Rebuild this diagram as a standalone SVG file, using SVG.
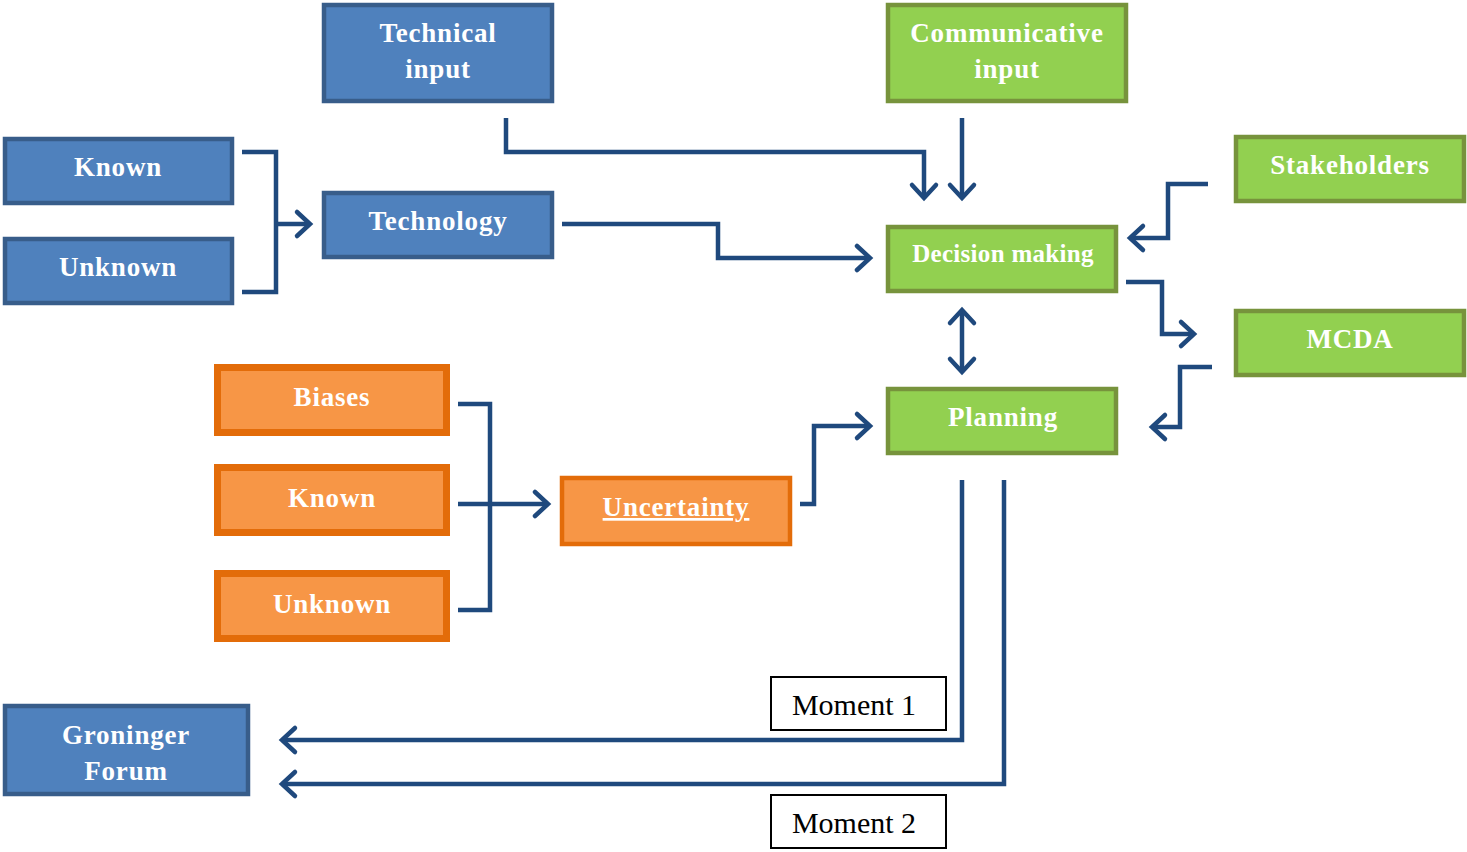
<svg xmlns="http://www.w3.org/2000/svg" width="1467" height="852" viewBox="0 0 1467 852">
<style>
.blue{fill:#4F81BD;stroke:#385D8A;stroke-width:4.5}
.green{fill:#92D050;stroke:#77933C;stroke-width:4.5}
.orange{fill:#F79646;stroke:#E36C09;stroke-width:7}
.mom{fill:#fff;stroke:#000;stroke-width:2}
.t{font-family:"Liberation Serif","Times New Roman",serif;font-weight:bold;font-size:27px;letter-spacing:0.8px;fill:#fff;text-anchor:middle}
.m{font-family:"Liberation Serif","Times New Roman",serif;font-size:30px;fill:#000;text-anchor:middle}
.c{fill:none;stroke:#1F497D;stroke-width:4.5;stroke-linejoin:miter}
</style>
<defs>
<marker id="ah" markerUnits="userSpaceOnUse" markerWidth="30" markerHeight="30" viewBox="-16 -15 20 30" refX="0" refY="0" orient="auto-start-reverse" overflow="visible">
<path d="M-13,-12 L0,0 L-13,12" fill="none" stroke="#1F497D" stroke-width="4.5" stroke-linecap="round" stroke-linejoin="miter"/>
</marker>
</defs>
<rect width="1467" height="852" fill="#fff"/>
<g id="connectors">
<path class="c" d="M242,152 H276 V292 H242"/>
<path class="c" d="M276,224 H310" marker-end="url(#ah)"/>
<path class="c" d="M506,118 V152 H924 V198" marker-end="url(#ah)"/>
<path class="c" d="M962,118 V198" marker-end="url(#ah)"/>
<path class="c" d="M562,224 H718 V258 H870" marker-end="url(#ah)"/>
<path class="c" d="M1208,184 H1168 V238 H1130" marker-end="url(#ah)"/>
<path class="c" d="M1126,282 H1162 V334 H1194" marker-end="url(#ah)"/>
<path class="c" d="M1212,367 H1180 V427 H1152" marker-end="url(#ah)"/>
<path class="c" d="M962,310 V372" marker-start="url(#ah)" marker-end="url(#ah)"/>
<path class="c" d="M458,404 H490 V610 H458"/>
<path class="c" d="M458,504 H548" marker-end="url(#ah)"/>
<path class="c" d="M800,504 H814 V426 H870" marker-end="url(#ah)"/>
<path class="c" d="M962,480 V740 H282" marker-end="url(#ah)"/>
<path class="c" d="M1004,480 V784 H282" marker-end="url(#ah)"/>
</g>
<g id="technical-input"><rect class="blue" x="324" y="5" width="228" height="96"/><text class="t" x="438" y="42">Technical</text><text class="t" x="438" y="78">input</text></g>
<g id="communicative-input"><rect class="green" x="888" y="5" width="238" height="96"/><text class="t" x="1007" y="42">Communicative</text><text class="t" x="1007" y="78">input</text></g>
<g id="known-blue"><rect class="blue" x="5" y="139" width="227" height="64"/><text class="t" x="118" y="176">Known</text></g>
<g id="unknown-blue"><rect class="blue" x="5" y="239" width="227" height="64"/><text class="t" x="118" y="276">Unknown</text></g>
<g id="technology"><rect class="blue" x="324" y="193" width="228" height="64"/><text class="t" x="438" y="230">Technology</text></g>
<g id="stakeholders"><rect class="green" x="1236" y="137" width="228" height="64"/><text class="t" x="1350" y="174">Stakeholders</text></g>
<g id="decision-making"><rect class="green" x="888" y="227" width="228" height="64"/><text class="t" x="1003" y="262" style="font-size:25px;letter-spacing:0.3px">Decision making</text></g>
<g id="mcda"><rect class="green" x="1236" y="311" width="228" height="64"/><text class="t" x="1350" y="348">MCDA</text></g>
<g id="planning"><rect class="green" x="888" y="389" width="228" height="64"/><text class="t" x="1003" y="426">Planning</text></g>
<g id="biases"><rect class="orange" x="217.5" y="367.5" width="229" height="65"/><text class="t" x="332" y="406">Biases</text></g>
<g id="known-orange"><rect class="orange" x="217.5" y="467.5" width="229" height="65"/><text class="t" x="332" y="507">Known</text></g>
<g id="unknown-orange"><rect class="orange" x="217.5" y="573.5" width="229" height="65"/><text class="t" x="332" y="613">Unknown</text></g>
<g id="uncertainty"><rect class="orange" x="562" y="478" width="228" height="66" style="stroke-width:4.5"/><text class="t" x="676" y="516" text-decoration="underline">Uncertainty</text></g>
<g id="groninger-forum"><rect class="blue" x="5" y="706" width="243" height="88"/><text class="t" x="126" y="744">Groninger</text><text class="t" x="126" y="780">Forum</text></g>
<g id="moment-1"><rect class="mom" x="771" y="677" width="175" height="53"/><text class="m" x="854" y="715">Moment 1</text></g>
<g id="moment-2"><rect class="mom" x="771" y="795" width="175" height="53"/><text class="m" x="854" y="833">Moment 2</text></g>
</svg>
